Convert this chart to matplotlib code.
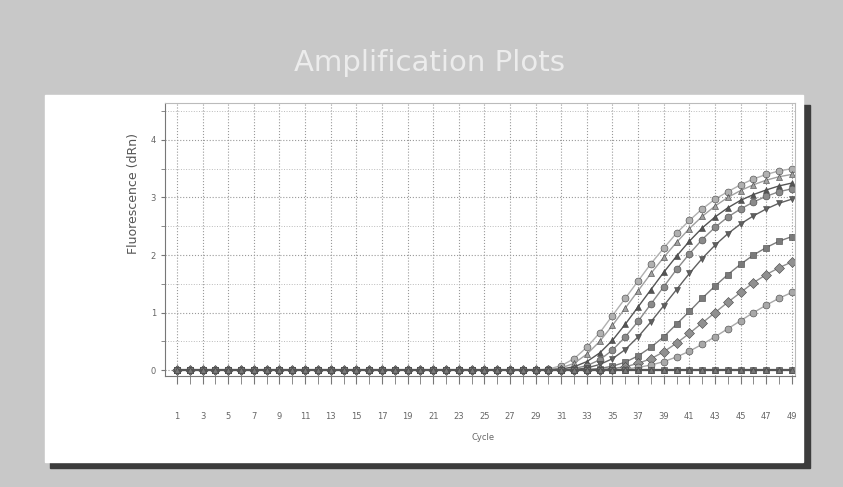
import matplotlib
matplotlib.use("Agg")
import matplotlib.pyplot as plt
from matplotlib.patches import Rectangle

cycles = list(range(1, 50))
tick_cycles = list(range(1, 50, 2))
y_ticks = [0, 1, 2, 3, 4]

# fluorescence per cycle, cycles 1-29 flat, then read values for 30-49
flat = [0.0] * 29
curve_a = flat + [0.02, 0.08, 0.2, 0.4, 0.65, 0.95, 1.25, 1.55, 1.85, 2.12,
                  2.38, 2.6, 2.8, 2.97, 3.1, 3.22, 3.32, 3.4, 3.46, 3.5]
curve_b = flat + [0.01, 0.04, 0.12, 0.28, 0.5, 0.78, 1.08, 1.38, 1.68, 1.96,
                  2.22, 2.46, 2.67, 2.85, 3.0, 3.12, 3.22, 3.3, 3.36, 3.4]
curve_c = flat + [0.0, 0.02, 0.06, 0.15, 0.3, 0.52, 0.8, 1.1, 1.4, 1.7,
                  1.98, 2.24, 2.47, 2.66, 2.82, 2.95, 3.05, 3.13, 3.2, 3.25]
curve_d = flat + [0.0, 0.0, 0.03, 0.08, 0.18, 0.35, 0.58, 0.85, 1.15, 1.45,
                  1.75, 2.02, 2.27, 2.48, 2.66, 2.8, 2.92, 3.02, 3.1, 3.15]
curve_e = flat + [0.0, 0.0, 0.01, 0.04, 0.1, 0.2, 0.36, 0.58, 0.84, 1.12,
                  1.4, 1.68, 1.94, 2.17, 2.37, 2.54, 2.68, 2.8, 2.9, 2.97]
curve_f = flat + [0.0, 0.0, 0.0, 0.01, 0.03, 0.07, 0.14, 0.25, 0.4, 0.58,
                  0.8, 1.02, 1.25, 1.46, 1.66, 1.84, 2.0, 2.13, 2.24, 2.32]
curve_g = flat + [0.0, 0.0, 0.0, 0.0, 0.01, 0.03, 0.06, 0.12, 0.2, 0.32,
                  0.47, 0.64, 0.82, 1.0, 1.18, 1.35, 1.52, 1.66, 1.78, 1.88]
curve_h = flat + [0.0, 0.0, 0.0, 0.0, 0.0, 0.01, 0.02, 0.05, 0.09, 0.15,
                  0.23, 0.33, 0.45, 0.58, 0.72, 0.86, 1.0, 1.13, 1.25, 1.35]
negative = [0.0] * 49

curves = [
    (curve_a, "o", "#b0b0b0"),
    (curve_b, "^", "#a0a0a0"),
    (curve_c, "^", "#555555"),
    (curve_d, "o", "#8a8a8a"),
    (curve_e, "v", "#606060"),
    (curve_f, "s", "#7a7a7a"),
    (curve_g, "D", "#909090"),
    (curve_h, "o", "#a8a8a8"),
]

fig = plt.figure(figsize=(8.43, 4.87), dpi=100)
fig.patch.set_facecolor("#c8c8c8")

# white panel with dark drop shadow
fig.patches.append(Rectangle((50 / 843, 1 - 468 / 487), 760 / 843, 363 / 487,
                             transform=fig.transFigure, color="#3c3c3c", zorder=-2))
fig.patches.append(Rectangle((45 / 843, 1 - 462 / 487), 758 / 843, 367 / 487,
                             transform=fig.transFigure, color="white", zorder=-1))

fig.text(430 / 843, 1 - 63 / 487, "Amplification Plots", ha="center", va="center",
         fontsize=21, color="#ececec", family="Liberation Sans Narrow")

ax = fig.add_axes([165 / 843, 1 - 376 / 487, 630 / 843, 273 / 487])
ax.set_facecolor("white")

for vals, mk, col in curves:
    ax.plot(cycles, vals, color=col, marker=mk, markersize=5, linewidth=1,
            markerfacecolor=col, markeredgecolor="#444444", markeredgewidth=0.4)
for mk in ["o", "s", "^"]:
    ax.plot(cycles, negative, color="#555555", marker=mk, markersize=4,
            linewidth=1.5, markerfacecolor="#777777", markeredgecolor="#444444",
            markeredgewidth=0.4)

ax.set_xlim(0.06, 49.25)
ax.set_ylim(-0.1, 4.64)
ax.set_xticks(tick_cycles)
ax.set_xticklabels([str(c) for c in tick_cycles], fontsize=6, color="#666666")
ax.set_xticks(cycles, minor=True)
ax.set_yticks(y_ticks)
ax.set_yticklabels([str(v) for v in y_ticks], fontsize=6, color="#666666")
ax.set_yticks([0.5, 1.5, 2.5, 3.5, 4.5], minor=True)
ax.tick_params(axis="x", which="both", length=6, color="#777777", pad=20)
ax.tick_params(axis="y", which="both", length=3, color="#777777")

ax.grid(True, which="major", axis="both", linestyle=":", color="#999999", linewidth=0.8)
ax.grid(True, which="minor", axis="y", linestyle=":", color="#bbbbbb", linewidth=0.7)

for side in ["top", "right"]:
    ax.spines[side].set_color("#bbbbbb")
ax.spines["left"].set_color("#777777")
ax.spines["bottom"].set_color("#777777")

fig.text(133 / 843, 1 - 193 / 487, "Fluorescence (dRn)", rotation=90,
         ha="center", va="center", fontsize=9, color="#555555")
fig.text(483 / 843, 1 - 438 / 487, "Cycle", ha="center", va="center",
         fontsize=6, color="#666666")

fig.savefig("out.png", dpi=100, facecolor=fig.get_facecolor())
